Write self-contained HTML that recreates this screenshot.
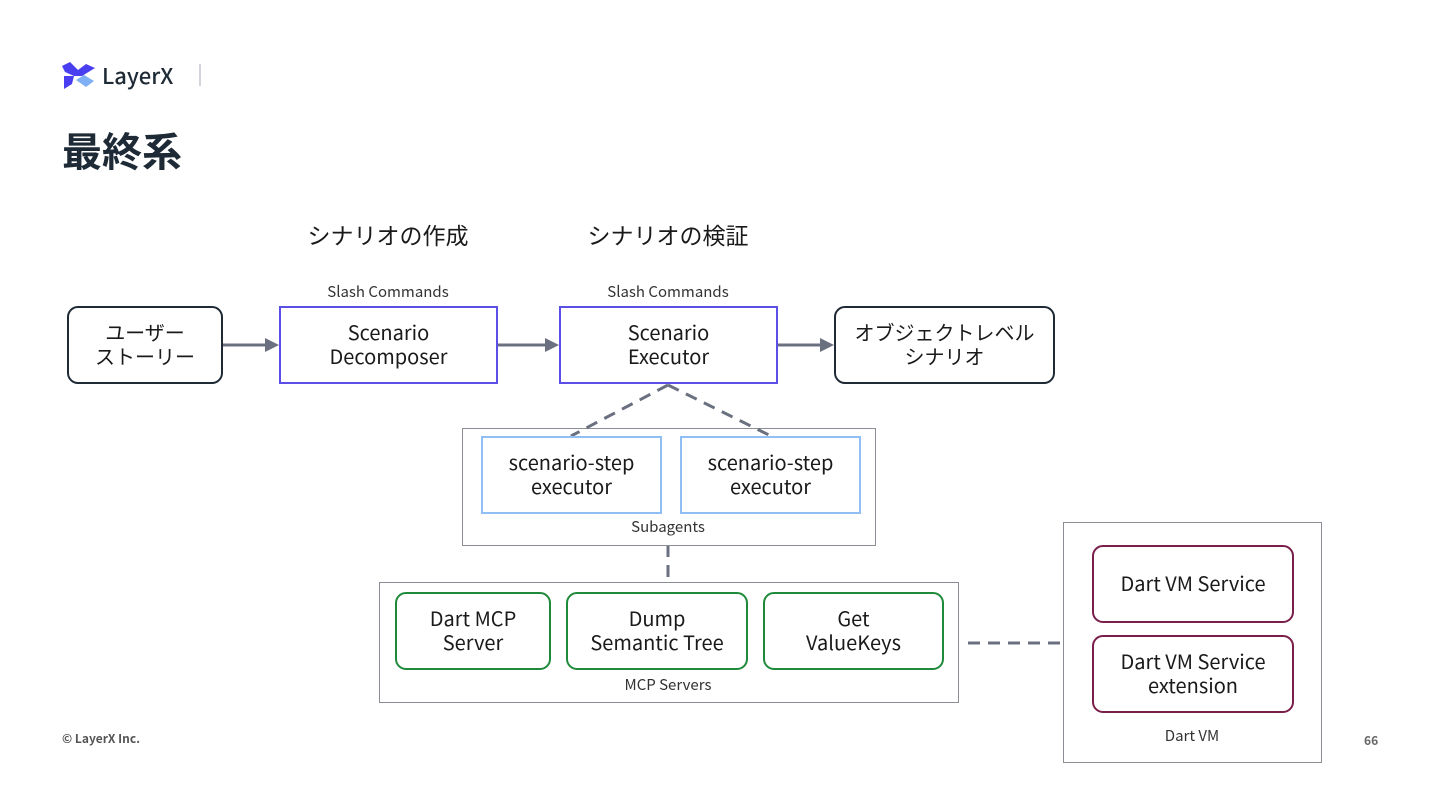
<!DOCTYPE html>
<html><head><meta charset="utf-8"><style>
body{margin:0;width:1440px;height:810px;background:#fff;position:relative;overflow:hidden;font-family:"Noto Sans CJK JP","Liberation Sans",sans-serif;color:#1a1a1a}
.b{position:absolute;box-sizing:border-box;display:flex;align-items:center;justify-content:center;text-align:center;font-size:20px;line-height:24px;background:#fff;padding-bottom:2px}
.t{position:absolute;white-space:nowrap;transform:translateX(-50%);line-height:1.2}
.c{position:absolute;box-sizing:border-box;border:1.5px solid #8a8d93;background:#fff}
svg.o{position:absolute;left:0;top:0}
</style></head><body>
<svg style="position:absolute;left:62px;top:62px" width="34" height="28" viewBox="0 0 34 28">
<polygon points="0,4 8,0 16,8 24,2 33,6 20,14 12,14 3,10" fill="#4a3ff0"/>
<polygon points="2,14 12,14 10,22 2,27" fill="#4a3ff0"/>
<polygon points="14,18 22,13 32,19 24,25" fill="#7fb0f5"/>
</svg>
<div style="position:absolute;left:102px;top:60px;font-size:22px;font-weight:500;color:#1e2a36;line-height:30px">LayerX</div>
<div style="position:absolute;left:199px;top:64px;width:2px;height:22px;background:#d0d4da"></div>
<div style="position:absolute;left:62px;top:123px;font-size:40px;font-weight:bold;color:#1e2a36;line-height:52px">最終系</div>

<div class="t" style="left:388px;top:221px;font-size:23px">シナリオの作成</div>
<div class="t" style="left:668px;top:221px;font-size:23px">シナリオの検証</div>
<div class="t" style="left:388px;top:283px;font-size:15px;color:#333">Slash Commands</div>
<div class="t" style="left:668px;top:283px;font-size:15px;color:#333">Slash Commands</div>

<svg class="o" width="1440" height="810">
<g stroke="#6b7080" stroke-width="3" fill="none">
<line x1="222" y1="345" x2="265" y2="345"/><line x1="497" y1="345" x2="545" y2="345"/><line x1="777" y1="345" x2="820" y2="345"/>
<g stroke-dasharray="12,8"><line x1="668" y1="545" x2="668" y2="582"/><line x1="968" y1="643" x2="1062" y2="643"/></g>
</g>
<g fill="#6b7080"><polygon points="265,338 279,345 265,352"/><polygon points="545,338 559,345 545,352"/><polygon points="820,338 834,345 820,352"/></g>
</svg>

<div class="b" style="left:67px;top:306px;width:156px;height:78px;border:2.5px solid #1e2a36;border-radius:11px">ユーザー<br>ストーリー</div>
<div class="b" style="left:279px;top:306px;width:219px;height:78px;border:2px solid #5b4fe8">Scenario<br>Decomposer</div>
<div class="b" style="left:559px;top:306px;width:219px;height:78px;border:2px solid #5b4fe8">Scenario<br>Executor</div>
<div class="b" style="left:834px;top:306px;width:221px;height:78px;border:2.5px solid #1e2a36;border-radius:11px">オブジェクトレベル<br>シナリオ</div>

<div class="c" style="left:462px;top:428px;width:414px;height:118px"></div>
<svg class="o" width="1440" height="810">
<g stroke="#6b7080" stroke-width="3" fill="none" stroke-dasharray="12,8"><line x1="668" y1="385" x2="571" y2="436"/><line x1="668" y1="385" x2="771" y2="436"/></g>
</svg>
<div class="b" style="left:481px;top:436px;width:181px;height:78px;border:2px solid #90bff5">scenario-step<br>executor</div>
<div class="b" style="left:680px;top:436px;width:181px;height:78px;border:2px solid #90bff5">scenario-step<br>executor</div>
<div class="t" style="left:668px;top:518px;font-size:15px;color:#333">Subagents</div>

<div class="c" style="left:379px;top:582px;width:580px;height:121px"></div>
<div class="b" style="left:395px;top:592px;width:156px;height:78px;border:2.5px solid #1e8a3a;border-radius:11px">Dart MCP<br>Server</div>
<div class="b" style="left:566px;top:592px;width:182px;height:78px;border:2.5px solid #1e8a3a;border-radius:11px">Dump<br>Semantic Tree</div>
<div class="b" style="left:763px;top:592px;width:181px;height:78px;border:2.5px solid #1e8a3a;border-radius:11px">Get<br>ValueKeys</div>
<div class="t" style="left:668px;top:676px;font-size:15px;color:#333">MCP Servers</div>

<div class="c" style="left:1063px;top:522px;width:259px;height:241px"></div>
<div class="b" style="left:1092px;top:545px;width:202px;height:78px;border:2.5px solid #7a1e4a;border-radius:11px">Dart VM Service</div>
<div class="b" style="left:1092px;top:635px;width:202px;height:78px;border:2.5px solid #7a1e4a;border-radius:11px">Dart VM Service<br>extension</div>
<div class="t" style="left:1192px;top:727px;font-size:15px;color:#333">Dart VM</div>

<div style="position:absolute;left:62px;top:730px;font-size:12px;font-weight:bold;color:#555">© LayerX Inc.</div>
<div style="position:absolute;left:1364px;top:732px;font-size:12px;font-weight:bold;color:#666">66</div>
</body></html>
